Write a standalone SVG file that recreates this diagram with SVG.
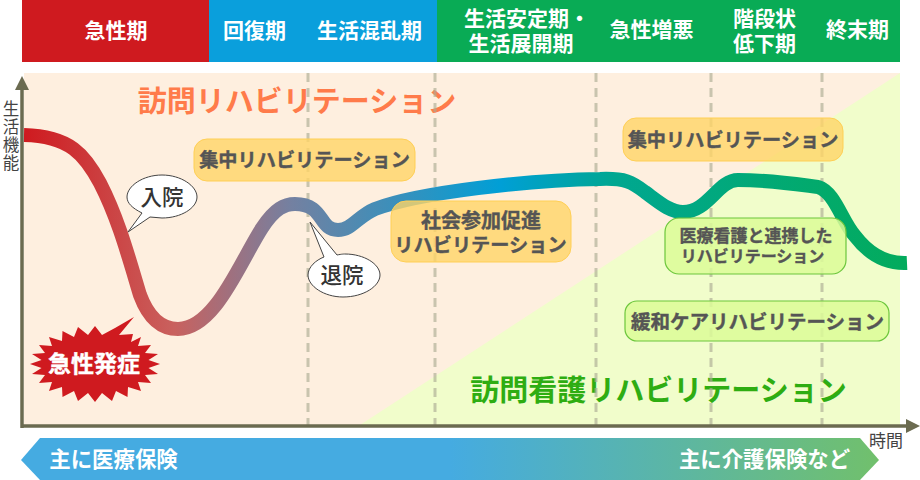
<svg xmlns="http://www.w3.org/2000/svg" width="920" height="480" viewBox="0 0 920 480">
<style>
text{font-family:"Noto Sans CJK JP","Noto Sans",sans-serif;text-anchor:middle}
.h{font-size:21px;font-weight:700;fill:#fff}
.p{fill:#ffd566;fill-opacity:.8;stroke:#ffcf55;stroke-width:1}
.g{fill:#dcfb98;fill-opacity:.85;stroke:#6cc63c;stroke-width:1.2}
.l{font-size:19.2px;font-weight:700;fill:#555;stroke:#555;stroke-width:.4}
.d{stroke:#acac94;stroke-opacity:.65;stroke-width:3;stroke-dasharray:9 6;fill:none}
.a{font-size:16.5px;fill:#444}
.c{fill:#fff;stroke:#444;stroke-width:1}
.b{font-size:21.5px;font-weight:500;fill:#333}
.f{font-size:21.4px;font-weight:700;fill:#fff}
</style>
<defs>
<linearGradient id="cg" gradientUnits="userSpaceOnUse" x1="24" y1="0" x2="907" y2="0">
<stop offset="0" stop-color="#cf1a1f"/><stop offset=".17" stop-color="#c9615e"/><stop offset=".3" stop-color="#7580a0"/><stop offset=".54" stop-color="#009fd6"/><stop offset=".67" stop-color="#00a790"/><stop offset="1" stop-color="#03ab5c"/>
</linearGradient>
<linearGradient id="bg" gradientUnits="userSpaceOnUse" x1="21" y1="0" x2="879" y2="0">
<stop offset="0" stop-color="#45abe1"/><stop offset=".5" stop-color="#45abe1"/><stop offset="1" stop-color="#71c06c"/>
</linearGradient>
</defs>
<g id="header">
<rect x="22" y="0" width="187" height="62" fill="#cf1a1f"/>
<rect x="209" y="0" width="228" height="62" fill="#0a9fdc"/>
<rect x="437" y="0" width="463" height="62" fill="#09ab55"/>
<text class="h" x="116" y="38">急性期</text>
<text class="h" x="254.500" y="38">回復期</text>
<text class="h" x="369.500" y="38">生活混乱期</text>
<text class="h"><tspan x="527" y="26">生活安定期・</tspan><tspan x="521" y="51">生活展開期</tspan></text>
<text class="h" x="651.500" y="37">急性増悪</text>
<text class="h"><tspan x="764.500" y="26">階段状</tspan><tspan x="764.500" y="51">低下期</tspan></text>
<text class="h" x="857.500" y="37">終末期</text>
</g>
<g id="background">
<rect x="24" y="73" width="876" height="352" fill="#feefdf"/>
<polygon points="360,425 900,73 900,425" fill="#f1fdcb"/>
<text x="297" y="112" font-size="29" font-weight="700" fill="#ff7b4a">訪問リハビリテーション</text>
<text x="658.500" y="401" font-size="29" font-weight="700" fill="#2ead12">訪問看護リハビリテーション</text>
</g>
<g id="connectors">
<path class="d" d="M308 73V425M435 73V425M596 73V425M711 73V425M822 73V425"/>
<path d="M24 135C70 136 85 155 100 183C118 218 128 255 140 295C150 322 165 329 178 329C215 329 240 262 262 228C275 208 285 204 295 204C325 204 318 230 338 230C352 230 358 216 375 209C420 192 530 180 600 179C625 178 632 182 645 192C660 203 670 212 683 212C708 212 718 180 738 180C770 180 795 184 818 187C835 192 842 222 855 236C868 253 885 264 907 263" fill="none" stroke="url(#cg)" stroke-width="14"/>
<path d="M22 428V84" stroke="#6b6b50" stroke-width="3.5" fill="none"/>
<polygon points="22,76 15,90 29,90" fill="#6b6b50"/>
<path d="M21 426H908" stroke="#6b6b50" stroke-width="3.5" fill="none"/>
<polygon points="920,426 906,419 906,433" fill="#6b6b50"/>
</g>
<g id="axis-labels">
<text class="a" x="11" y="100" style="writing-mode:vertical-rl;text-anchor:start;letter-spacing:1.500px">生活機能</text>
<text x="886" y="447" font-size="17" fill="#444">時間</text>
</g>
<g id="n-shuchu1"><rect class="p" x="194" y="139" width="221" height="42" rx="13"/><text class="l" x="304.500" y="167">集中リハビリテーション</text></g>
<g id="n-shuchu2"><rect class="p" x="623" y="118" width="220" height="43" rx="13"/><text class="l" x="733" y="147">集中リハビリテーション</text></g>
<g id="n-shakai"><rect class="p" x="391" y="201" width="180" height="61" rx="15"/><text class="l"><tspan x="481" y="228" style="font-size:20px">社会参加促進</tspan><tspan x="480.500" y="252">リハビリテーション</tspan></text></g>
<g id="n-iryo"><rect class="g" x="665" y="218" width="181" height="56" rx="14"/><text class="l"><tspan x="756" y="242" style="font-size:17px">医療看護と連携した</tspan><tspan x="752.500" y="262" style="font-size:16px">リハビリテーション</tspan></text></g>
<g id="n-kanwa"><rect class="g" x="625" y="301" width="264" height="40" rx="12"/><text class="l" x="757.500" y="329" style="font-size:19.500px">緩和ケアリハビリテーション</text></g>
<g id="n-nyuin"><path class="c" d="M128 232L142 213C132 208 127 203 127 197C127 186 143 175 162 175C181 175 197 186 197 197C197 208 181 218 162 218C158 218 154 217 150 217Z"/><text class="b" x="162" y="205">入院</text></g>
<g id="n-taiin"><path class="c" d="M310 222L337 255C342 254 344 254 345 254C364 254 380 264 380 275C380 286 364 297 343 297C324 297 308 286 308 275C308 267 316 260 324 257Z"/><text class="b" x="342" y="283">退院</text></g>
<g id="n-hassho"><polygon fill="#cf1a1f" points="160,364 148.5,368 158,374 145,375 151,383 138,382 141,391 128,387 127.5,397 116,391 112,401 102,393 95,402 88,393 78,401 74,391 62.5,397 62,387 49,391 52,382 39,383 45,375 32,374 41.5,368 30,364 41.5,360 32,354 45,353 39,345 52,346 49,337 62,341 62.5,331 74,337 78,327 88,335 95,326 102,335 115,328 134,317 119,335 133,334 131,342 141,337 138,346 151,345 145,353 158,354 148.5,360"/><text x="94" y="372" font-size="23" font-weight="700" fill="#fff" stroke="#fff" stroke-width=".4">急性発症</text></g>
<g id="insurance">
<polygon points="40,438 860,438 879,460 860,480 40,480 21,460" fill="url(#bg)"/>
<text class="f" x="113.500" y="467">主に医療保険</text>
<text class="f" x="764.500" y="467">主に介護保険など</text>
</g>
</svg>
